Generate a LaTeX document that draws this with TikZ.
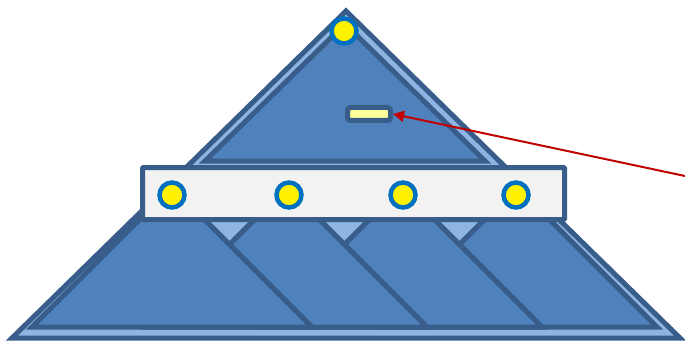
\documentclass[tikz,border=0pt]{standalone}
\usetikzlibrary{arrows.meta}

\definecolor{rimblue}{HTML}{385D8A}
\definecolor{midblue}{HTML}{4F81BD}
\definecolor{paleblue}{HTML}{8EB4E3}
\definecolor{ringblue}{HTML}{0070C0}
\definecolor{arrowred}{HTML}{C00000}
\definecolor{barfill}{HTML}{F2F2F2}
\definecolor{slotfill}{HTML}{FFFF99}

\begin{document}
\begin{tikzpicture}[
    x=1pt,
    y=-1pt,
    shell/.style={draw=rimblue, fill=paleblue, line width=5pt},
    slab/.style={draw=rimblue, fill=midblue, line width=5pt},
    bar/.style={draw=rimblue, fill=barfill, line width=5pt, rounded corners=1pt, inner sep=0pt, minimum width=422pt, minimum height=52pt},
    port/.style={circle, draw=ringblue, fill=yellow, line width=4.5pt, inner sep=0pt, minimum size=25pt},
    slot/.style={draw=rimblue, fill=slotfill, line width=5pt, rounded corners=3pt, inner sep=0pt, minimum width=43pt, minimum height=13pt},
    pointer/.style={draw=arrowred, line width=2pt, -{Triangle[length=11pt, width=11pt]}}
]
    \useasboundingbox (0,0) rectangle (685,342);

    % outer shell and upper block
    \draw[shell] (346,11) -- (680,338) -- (12,338) -- cycle;
    \draw[slab] (205,161) -- (345,24) -- (485,161) -- cycle;

    % lower blocks, rightmost first
    \foreach \k in {3,2,1,0}{
        \draw[slab] ({32+115*\k},327) -- ({172+115*\k},187) -- ({312+115*\k},327) -- cycle;
    }

    \node[bar] (bar) at (353.5,193.5) {};

    \node[port] (crown) at (344,31) {};
    \foreach \x/\n in {172/p1, 289/p2, 403/p3, 516/p4}{
        \node[port] (\n) at (\x,195) {};
    }

    \node[slot] (gauge) at (369,114) {};
    \coordinate (tail) at (685,176);
    \draw[pointer] (tail) -- (gauge.east);

\end{tikzpicture}
\end{document}
